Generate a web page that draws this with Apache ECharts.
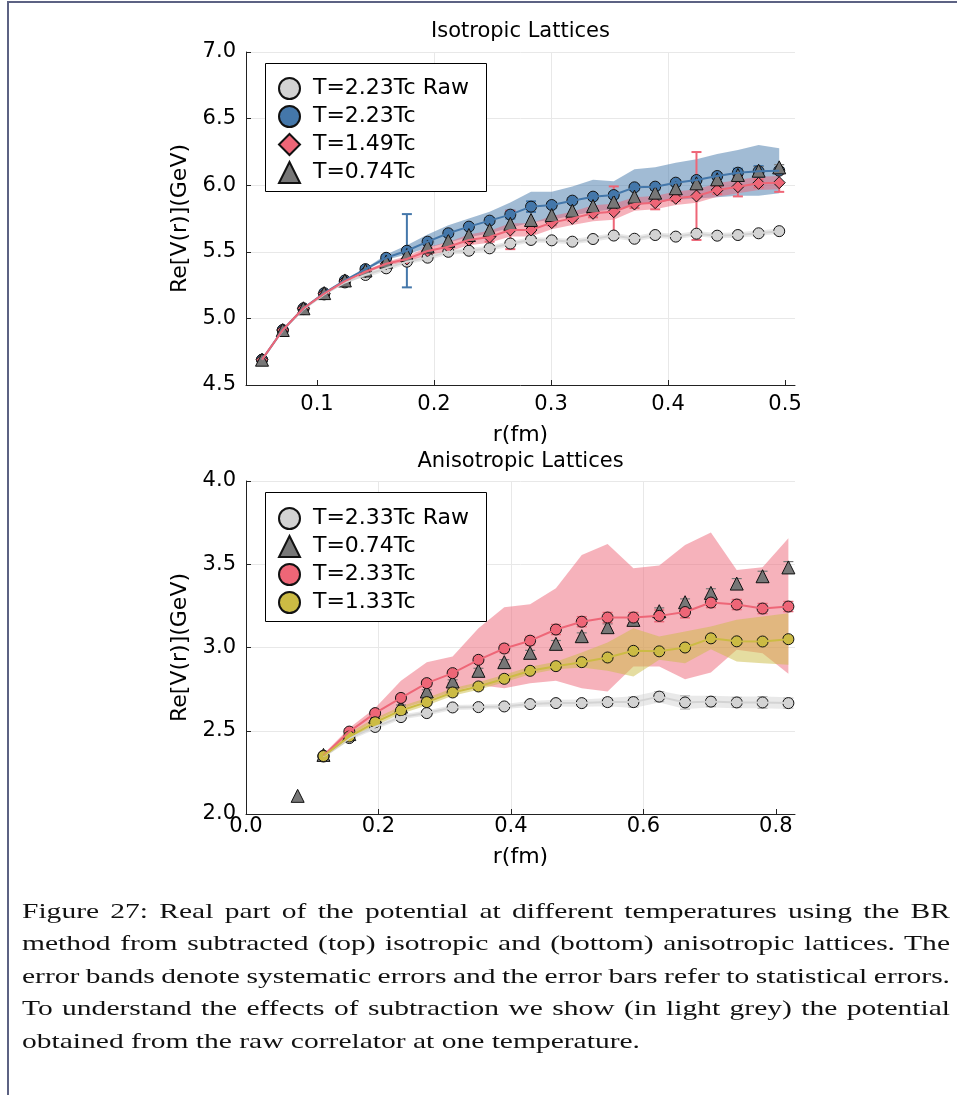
<!DOCTYPE html>
<html>
<head>
<meta charset="utf-8">
<script src="https://cdn.jsdelivr.net/npm/echarts@6/dist/echarts.min.js"></script>
<style>
html,body{margin:0;padding:0;background:#fff;width:957px;height:1095px;overflow:hidden;}
#chart{position:absolute;left:0;top:0;width:957px;height:880px;}
#frame{position:absolute;left:7px;top:1px;width:970px;height:1110px;border-left:2px solid #5c6283;border-top:2px solid #5c6283;pointer-events:none;}
#caption{position:absolute;left:22px;top:895px;width:940px;font-family:'Liberation Serif',serif;font-size:22px;line-height:32.4px;color:#111;}
#caption .ln{display:block;white-space:nowrap;height:32.4px;}
#caption .ln span{display:inline-block;white-space:nowrap;transform-origin:0 50%;}
</style>
</head>
<body>
<div id="chart"></div>
<div id="frame"></div>
<div id="caption">
<div class="ln"><span>Figure 27: Real part of the potential at different temperatures using the BR</span></div>
<div class="ln"><span>method from subtracted (top) isotropic and (bottom) anisotropic lattices. The</span></div>
<div class="ln"><span>error bands denote systematic errors and the error bars refer to statistical errors.</span></div>
<div class="ln"><span>To understand the effects of subtraction we show (in light grey) the potential</span></div>
<div class="ln"><span>obtained from the raw correlator at one temperature.</span></div>
</div>
<script>
// ---------------- DATA: top panel (isotropic lattices) ----------------
const isoR = [0.0530,0.0707,0.0884,0.1061,0.1238,0.1414,0.1591,0.1768,0.1945,0.2122,0.2298,0.2475,0.2652,
              0.2829,0.3006,0.3182,0.3359,0.3536,0.3713,0.3890,0.4066,0.4243,0.4420,0.4597,0.4774,0.4950];
const isoRaw = [4.69,4.91,5.07,5.18,5.27,5.326,5.376,5.426,5.456,5.50,5.508,5.526,5.562,
                5.589,5.586,5.576,5.596,5.622,5.598,5.626,5.614,5.636,5.621,5.626,5.639,5.655];
const isoRawErr = [0,0,0,0,0,0.01,0.01,0.01,0.01,0.01,0.01,0.01,0.015,0.015,0.015,0.015,0.015,0.015,0.015,0.015,0.015,0.015,0.015,0.015,0.015,0.015];
const isoRawHi = [null,null,null,null,null,5.346,5.396,5.446,5.476,5.52,5.528,5.546,5.582,5.609,5.606,5.596,5.616,5.642,5.618,5.646,5.634,5.656,5.641,5.646,5.659,5.675];
const isoRawLo = [null,null,null,null,null,5.306,5.356,5.406,5.436,5.48,5.488,5.506,5.542,5.569,5.566,5.556,5.576,5.602,5.578,5.606,5.594,5.616,5.601,5.606,5.619,5.635];

const iso223 = [4.69,4.913,5.076,5.19,5.285,5.37,5.455,5.508,5.576,5.639,5.689,5.734,5.779,
                5.839,5.851,5.884,5.914,5.926,5.984,5.989,6.019,6.039,6.069,6.094,6.104,6.109];
const iso223Err = [0,0,0,0,0,0.02,0.02,0.275,0.02,0.02,0.02,0.02,0.03,0.04,0.02,0.02,0.02,0.02,0.02,0.02,0.02,0.02,0.02,0.03,0.04,0.02];
const iso223Hi = [null,null,null,null,null,5.375,5.48,5.55,5.63,5.70,5.75,5.80,5.87,5.951,5.951,5.99,6.04,6.03,6.12,6.134,6.169,6.194,6.234,6.264,6.302,6.277];
const iso223Lo = [null,null,null,null,null,5.36,5.44,5.48,5.53,5.57,5.61,5.64,5.68,5.72,5.74,5.77,5.80,5.82,5.85,5.87,5.89,5.90,5.91,5.92,5.92,5.94];

const iso149 = [4.69,4.913,5.076,5.186,5.28,5.35,5.41,5.446,5.506,5.538,5.589,5.611,5.664,
                5.664,5.719,5.751,5.789,5.801,5.859,5.869,5.902,5.919,5.964,5.989,6.014,6.019];
const iso149Err = [0,0,0,0,0,0.01,0.01,0.01,0.02,0.02,0.02,0.035,0.144,0.02,0.02,0.02,0.03,0.19,0.03,0.05,0.02,0.33,0.03,0.073,0.03,0.069];
const iso149Hi = [null,null,null,null,null,5.36,5.425,5.466,5.536,5.573,5.629,5.658,5.714,5.714,5.769,5.801,5.849,5.861,5.909,5.919,5.952,5.969,6.014,6.039,6.064,6.069];
const iso149Lo = [null,null,null,null,null,5.34,5.395,5.426,5.476,5.503,5.549,5.568,5.614,5.614,5.669,5.701,5.729,5.741,5.809,5.819,5.852,5.869,5.914,5.939,5.964,5.969];

const iso074 = [4.69,4.913,5.076,5.19,5.285,5.36,5.426,5.476,5.54,5.583,5.626,5.664,5.71,
                5.739,5.776,5.809,5.844,5.876,5.914,5.944,5.977,6.014,6.044,6.077,6.109,6.134];
const iso074Err = [0,0,0,0,0,0,0,0,0,0,0,0,0,0,0,0,0,0,0,0.02,0.02,0.02,0.02,0.02,0.03,0.02];

const isoXTicks = [0.1,0.2,0.3,0.4,0.5];

// ---------------- DATA: bottom panel (anisotropic lattices) ----------------
const anR = [0.078,0.117,0.156,0.195,0.234,0.273,0.312,0.351,0.390,0.429,0.468,0.507,0.546,0.585,0.624,0.663,0.702,0.741,0.780,0.819];
const anRaw = [null,2.345,2.456,2.523,2.582,2.606,2.64,2.642,2.646,2.66,2.666,2.666,2.672,2.672,2.705,2.67,2.675,2.67,2.67,2.666];
const anRawErr = [0,0.01,0.01,0.01,0.015,0.015,0.015,0.015,0.015,0.015,0.02,0.02,0.025,0.03,0.03,0.04,0.03,0.03,0.035,0.03];
const anRawHi = [null,2.355,2.471,2.538,2.597,2.621,2.655,2.657,2.661,2.678,2.686,2.688,2.697,2.707,2.74,2.71,2.71,2.705,2.705,2.701];
const anRawLo = [null,2.335,2.441,2.508,2.567,2.591,2.625,2.627,2.631,2.642,2.646,2.644,2.647,2.637,2.67,2.63,2.64,2.635,2.635,2.631];

const an074 = [2.109,2.355,2.48,2.585,2.645,2.736,2.796,2.86,2.912,2.968,3.022,3.068,3.122,3.166,3.218,3.272,3.328,3.384,3.428,3.481];
const an074Err = [0,0,0.01,0.01,0.01,0.01,0.01,0.015,0.015,0.015,0.02,0.02,0.02,0.02,0.02,0.02,0.025,0.03,0.03,0.035];

const an233 = [null,2.35,2.495,2.606,2.697,2.786,2.846,2.926,2.994,3.041,3.108,3.155,3.18,3.18,3.19,3.213,3.27,3.258,3.234,3.246];
const an233Err = [0,0.01,0.015,0.015,0.02,0.02,0.02,0.02,0.025,0.025,0.03,0.03,0.03,0.03,0.035,0.035,0.03,0.03,0.03,0.03];
const an233Hi = [null,2.36,2.516,2.636,2.80,2.912,2.946,3.116,3.242,3.26,3.356,3.556,3.622,3.476,3.492,3.616,3.69,3.466,3.482,3.656];
const an233Lo = [null,2.34,2.47,2.56,2.63,2.68,2.735,2.775,2.756,2.786,2.80,2.756,2.736,2.886,2.886,2.81,2.85,2.986,2.966,2.842];

const an133 = [null,2.348,2.465,2.551,2.622,2.672,2.73,2.766,2.812,2.86,2.888,2.912,2.94,2.98,2.977,3.0,3.055,3.037,3.036,3.05];
const an133Err = [0,0.01,0.015,0.015,0.015,0.015,0.02,0.02,0.02,0.02,0.02,0.02,0.02,0.02,0.02,0.02,0.02,0.02,0.02,0.02];
const an133Hi = [null,2.356,2.49,2.575,2.647,2.697,2.755,2.791,2.837,2.885,2.915,2.97,3.03,3.116,3.066,3.096,3.126,3.166,3.186,3.206];
const an133Lo = [null,2.34,2.445,2.531,2.602,2.652,2.71,2.746,2.792,2.84,2.87,2.88,2.86,2.826,2.926,2.906,2.99,2.916,2.906,2.896];

const anXTicks = [0.0,0.2,0.4,0.6,0.8];

// ---------------- styling ----------------
const FONT = 'DejaVu Sans';
const C = {
  blue:'#4477AA', red:'#EE6677', yellow:'#CCBB44', gray:'#777777', light:'#D3D3D3',
  blueBand:'rgba(68,119,170,0.5)', redBand:'rgba(238,102,119,0.5)', yellowBand:'rgba(204,187,68,0.5)', lightBand:'rgba(211,211,211,0.5)'
};
const STROKE = '#111';

function pairs(xs, ys){ const out=[]; for(let i=0;i<xs.length;i++){ if(ys[i]!=null) out.push([xs[i], ys[i]]); } return out; }

function band(gi, xs, lo, hi, fill){
  return {type:'custom', xAxisIndex:gi, yAxisIndex:gi, silent:true, clip:true, animation:false,
    data:[[xs[xs.length-1], hi[hi.length-1]]],
    renderItem:function(params, api){
      const top=[], bot=[];
      for(let i=0;i<xs.length;i++){
        if(hi[i]==null||lo[i]==null) continue;
        top.push(api.coord([xs[i],hi[i]]));
        bot.push(api.coord([xs[i],lo[i]]));
      }
      return {type:'polygon', shape:{points: top.concat(bot.reverse())}, style:{fill:fill}};
    }};
}
function line(gi, xs, ys, color, width){
  return {type:'line', xAxisIndex:gi, yAxisIndex:gi, data:pairs(xs,ys), showSymbol:false, symbol:'none', silent:true,
    lineStyle:{color:color, width:width}, emphasis:{disabled:true}, animation:false};
}
function errbars(gi, xs, ys, es, color, width){
  const rows=[];
  for(let i=0;i<xs.length;i++){ if(ys[i]!=null && es[i]>0) rows.push([xs[i], ys[i]-es[i], ys[i]+es[i]]); }
  return {type:'custom', xAxisIndex:gi, yAxisIndex:gi, silent:true, clip:true, animation:false, data:rows,
    encode:{x:0, y:[1,2]},
    renderItem:function(params, api){
      const x=api.value(0), lo=api.value(1), hi=api.value(2);
      const p1=api.coord([x,lo]), p2=api.coord([x,hi]); const c=5;
      const st={stroke:color, lineWidth:width};
      return {type:'group', children:[
        {type:'line', shape:{x1:p1[0],y1:p1[1],x2:p2[0],y2:p2[1]}, style:st},
        {type:'line', shape:{x1:p1[0]-c,y1:p1[1],x2:p1[0]+c,y2:p1[1]}, style:st},
        {type:'line', shape:{x1:p2[0]-c,y1:p2[1],x2:p2[0]+c,y2:p2[1]}, style:st}
      ]};
    }};
}
function markers(gi, name, xs, ys, symbol, color, size){
  return {type:'scatter', name:name, xAxisIndex:gi, yAxisIndex:gi, data:pairs(xs,ys), symbol:symbol, symbolSize:size,
    itemStyle:{color:color, borderColor:STROKE, borderWidth:1, opacity:1}, emphasis:{disabled:true}, silent:true, animation:false};
}

const fmt = v => Number(v).toFixed(1);
function xAxis(gi, min, max, ticks, margin, nameGap){
  return {type:'value', gridIndex:gi, min:min, max:max,
    axisLine:{show:true, onZero:false, lineStyle:{color:'#222', width:1}},
    axisTick:{show:true, inside:true, length:5, customValues:ticks, lineStyle:{color:'#222'}},
    axisLabel:{show:true, customValues:ticks, formatter:fmt, margin:margin, fontSize:21, fontFamily:FONT, color:'#000'},
    splitLine:{show:true, showMinLine:false, showMaxLine:false, lineStyle:{color:'#e8e8e8', width:1}},
    name:'r(fm)', nameLocation:'middle', nameGap:nameGap,
    nameTextStyle:{fontSize:22, fontFamily:FONT, color:'#000'}};
}
function yAxis(gi, min, max){
  return {type:'value', gridIndex:gi, min:min, max:max, interval:0.5,
    axisLine:{show:true, onZero:false, lineStyle:{color:'#222', width:1}},
    axisTick:{show:true, inside:true, length:5, lineStyle:{color:'#222'}},
    axisLabel:{formatter:fmt, margin:10, fontSize:21, fontFamily:FONT, color:'#000'},
    splitLine:{show:true, lineStyle:{color:'#e8e8e8', width:1}},
    name:'Re[V(r)](GeV)', nameLocation:'middle', nameGap:47, nameRotate:90,
    nameTextStyle:{fontSize:22, fontFamily:FONT, color:'#000'}};
}
function legend(top, names){
  return {show:true, orient:'vertical', left:278, top:top, itemWidth:21, itemHeight:21, itemGap:5, padding:0,
    selectedMode:false, data:names, z:6,
    textStyle:{fontSize:22, fontFamily:FONT, color:'#000', padding:[0,0,0,8]}};
}

const option = {
  backgroundColor:'#fff',
  animation:false,
  title:[
    {text:'Isotropic Lattices', left:520.5, top:21, textAlign:'center', padding:0,
     textStyle:{fontSize:21, fontWeight:'normal', fontFamily:FONT, color:'#000'}},
    {text:'Anisotropic Lattices', left:520.5, top:451, textAlign:'center', padding:0,
     textStyle:{fontSize:21, fontWeight:'normal', fontFamily:FONT, color:'#000'}}
  ],
  grid:[
    {left:246, top:52, width:549, height:333},
    {left:246, top:481, width:549, height:333}
  ],
  xAxis:[ xAxis(0, 0.0393, 0.5085, isoXTicks, 9, 39), xAxis(1, 0, 0.829, anXTicks, 2, 32) ],
  yAxis:[ yAxis(0, 4.5, 7.0), yAxis(1, 2.0, 4.0) ],
  legend:[
    legend(77, ['T=2.23Tc Raw','T=2.23Tc','T=1.49Tc','T=0.74Tc']),
    legend(507, ['T=2.33Tc Raw','T=0.74Tc','T=2.33Tc','T=1.33Tc'])
  ],
  graphic:[
    {type:'rect', z:5, shape:{x:265.5, y:63.5, width:221, height:128}, style:{fill:'#fff', stroke:'#000', lineWidth:1}},
    {type:'rect', z:5, shape:{x:265.5, y:492.5, width:221, height:129}, style:{fill:'#fff', stroke:'#000', lineWidth:1}}
  ],
  series:[
    // top: bands
    band(0, isoR, isoRawLo, isoRawHi, C.lightBand),
    band(0, isoR, iso223Lo, iso223Hi, C.blueBand),
    band(0, isoR, iso149Lo, iso149Hi, C.redBand),
    // top: raw
    line(0, isoR, isoRaw, C.light, 2),
    errbars(0, isoR, isoRaw, isoRawErr, '#bbbbbb', 1.2),
    markers(0, 'T=2.23Tc Raw', isoR, isoRaw, 'circle', C.light, 11),
    // top: 2.23Tc
    line(0, isoR, iso223, C.blue, 2),
    errbars(0, isoR, iso223, iso223Err, C.blue, 2),
    markers(0, 'T=2.23Tc', isoR, iso223, 'circle', C.blue, 11),
    // top: 1.49Tc
    line(0, isoR, iso149, C.red, 2),
    errbars(0, isoR, iso149, iso149Err, C.red, 2),
    markers(0, 'T=1.49Tc', isoR, iso149, 'diamond', C.red, 12),
    // top: 0.74Tc
    errbars(0, isoR, iso074, iso074Err, C.gray, 1.2),
    markers(0, 'T=0.74Tc', isoR, iso074, 'triangle', C.gray, 13),

    // bottom: bands
    band(1, anR, anRawLo, anRawHi, C.lightBand),
    band(1, anR, an233Lo, an233Hi, C.redBand),
    band(1, anR, an133Lo, an133Hi, C.yellowBand),
    // bottom: raw
    line(1, anR, anRaw, C.light, 2),
    errbars(1, anR, anRaw, anRawErr, '#bbbbbb', 1.2),
    markers(1, 'T=2.33Tc Raw', anR, anRaw, 'circle', C.light, 11),
    // bottom: 0.74Tc
    errbars(1, anR, an074, an074Err, C.gray, 1.2),
    markers(1, 'T=0.74Tc', anR, an074, 'triangle', C.gray, 13),
    // bottom: 2.33Tc
    line(1, anR, an233, C.red, 2),
    errbars(1, anR, an233, an233Err, C.red, 1.5),
    markers(1, 'T=2.33Tc', anR, an233, 'circle', C.red, 11),
    // bottom: 1.33Tc
    line(1, anR, an133, C.yellow, 2),
    errbars(1, anR, an133, an133Err, C.yellow, 1.5),
    markers(1, 'T=1.33Tc', anR, an133, 'circle', C.yellow, 11)
  ]
};

const chart = echarts.init(document.getElementById('chart'), null, {renderer:'canvas'});
chart.setOption(option);

// caption: stretch horizontally like the reference, justify the first four lines
(function(){
  const spans = Array.from(document.querySelectorAll('#caption .ln span'));
  const last = spans[spans.length-1];
  const w0 = last.getBoundingClientRect().width;
  let k = 618 / w0;
  if (k > 1.6) k = 1.6; if (k < 0.8) k = 0.8;
  for (let i=0;i<spans.length-1;i++){
    const s = spans[i];
    const w = s.getBoundingClientRect().width;
    const gaps = (s.textContent.match(/ /g) || []).length;
    if (gaps) s.style.wordSpacing = ((928 / k - w) / gaps) + 'px';
  }
  spans.forEach(s => s.style.transform = 'scaleX(' + k + ')');
})();
</script>
</body>
</html>
